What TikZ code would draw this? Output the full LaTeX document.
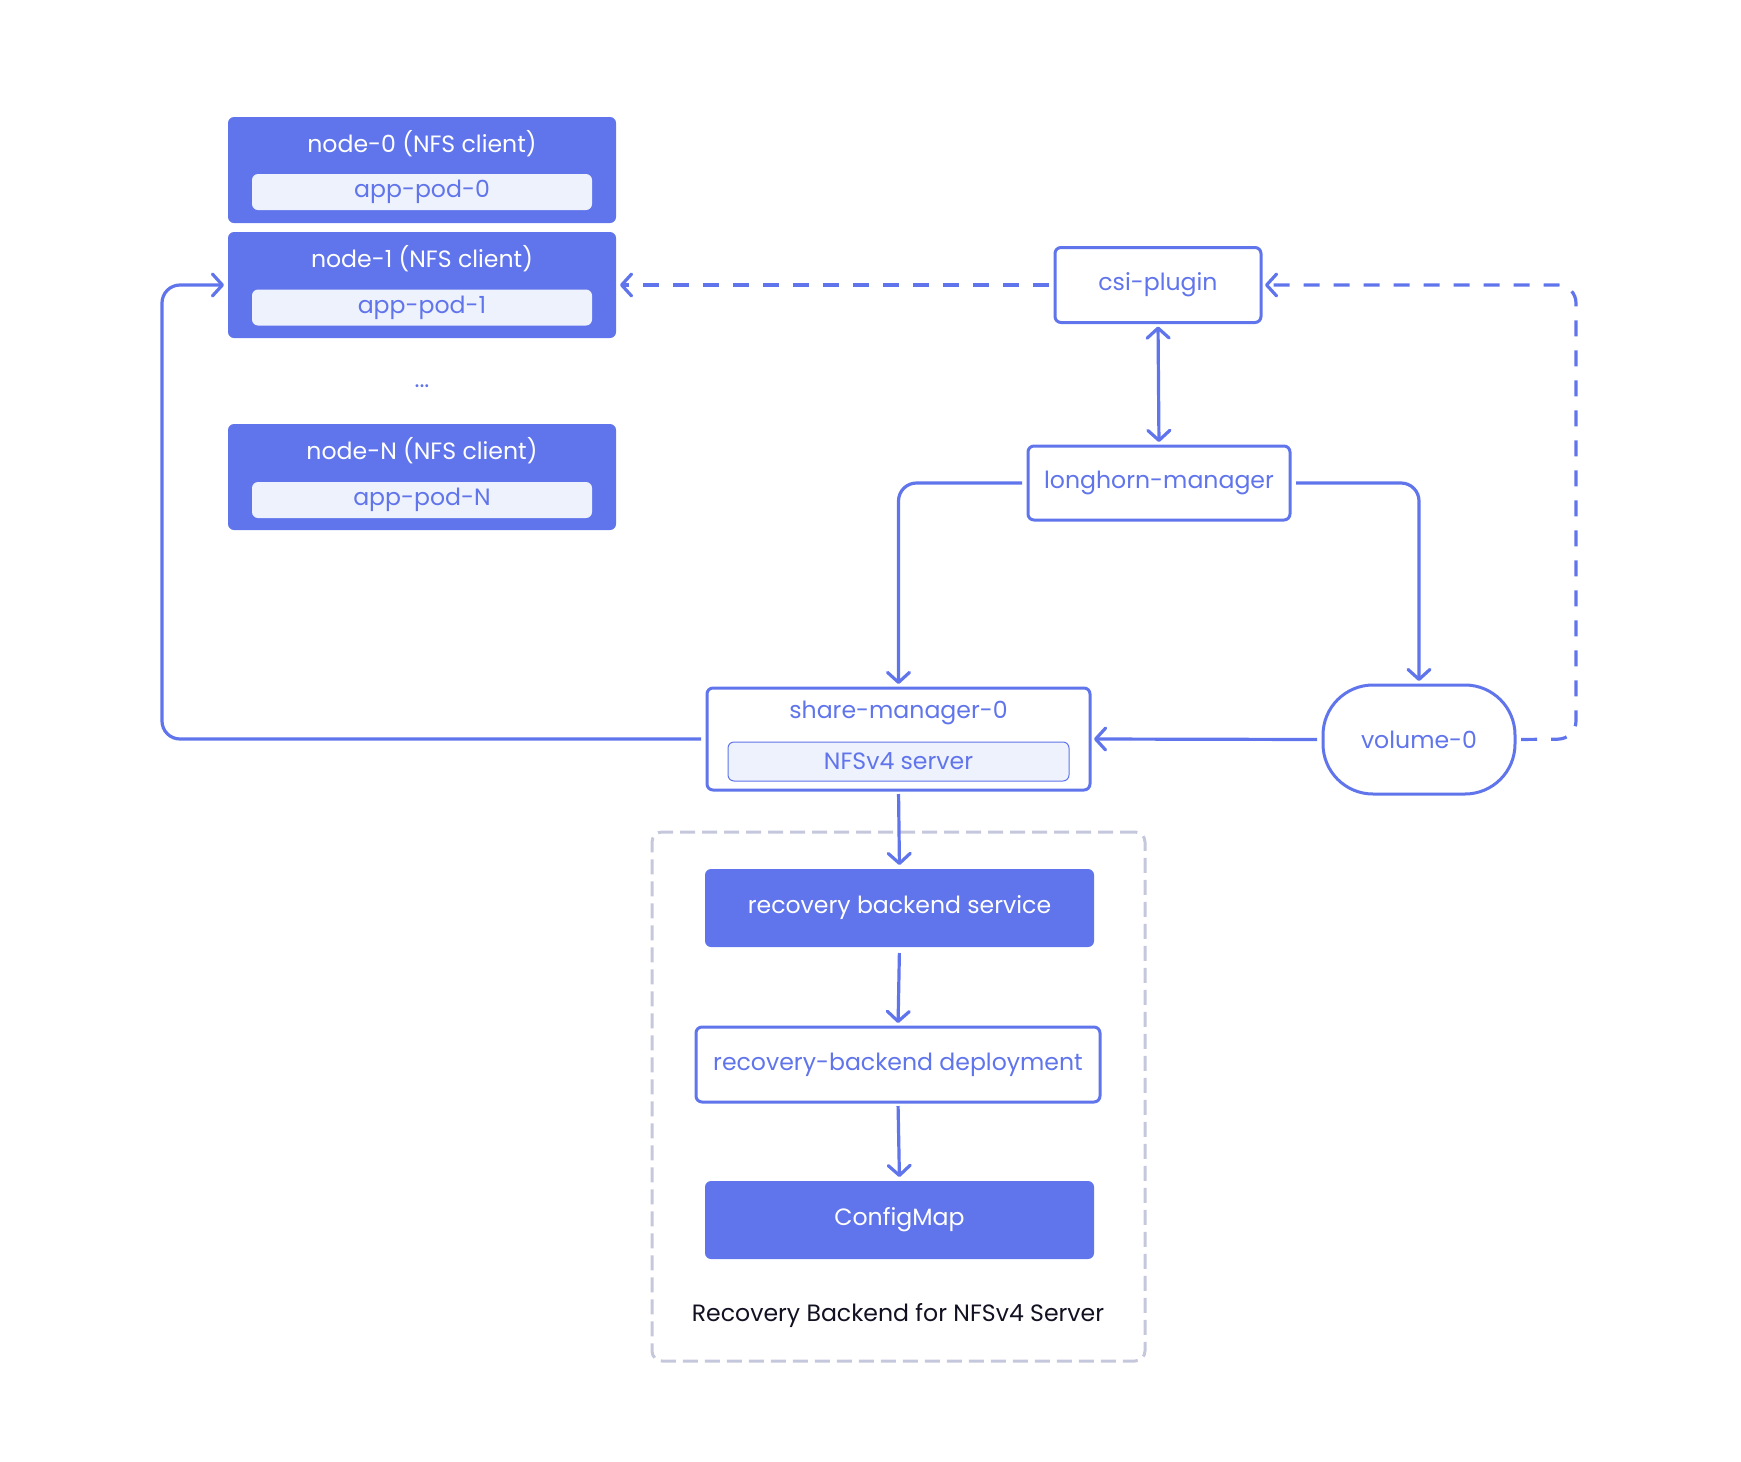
\documentclass[tikz,border=0pt]{standalone}
\usepackage{fontspec}
\setmainfont{Poppins}
\usetikzlibrary{arrows.meta}
\definecolor{lhblue}{HTML}{6074EB}
\definecolor{lhlight}{HTML}{EEF2FC}
\definecolor{lhgray}{HTML}{C5C8DD}
\definecolor{lhtext}{HTML}{111122}
\tikzset{
  x=0.5pt, y=-0.5pt,
  every node/.style={font=\fontsize{11.8}{13}\selectfont, inner sep=0pt, outer sep=0pt},
  filledbox/.style={fill=lhblue, draw=none, rounded corners=3pt, text=white},
  outlinebox/.style={fill=white, draw=lhblue, line width=1.5pt, rounded corners=3pt, text=lhblue},
  innerbox/.style={fill=lhlight, draw=none, rounded corners=3pt, text=lhblue, minimum width=170pt, minimum height=18pt},
  whitetext/.style={text=white},
  conn/.style={draw=lhblue, line width=1.6pt, rounded corners=9pt, -{Straight Barb[length=5pt,width=11pt,round]}, shorten >=2pt},
  dconn/.style={conn, dash pattern=on 8pt off 7pt},
  groupbox/.style={draw=lhgray, line width=1.5pt, dash pattern=on 7.5pt off 3.5pt, rounded corners=5pt},
}
\begin{document}
\begin{tikzpicture}
\useasboundingbox (0,0) rectangle (1741,1462);
% client nodes
\node[filledbox, minimum width=194pt, minimum height=53pt] (node0) at (422,170) {};
\node[whitetext] (node0t) at (422,144) {node-0 (NFS client)};
\node[innerbox] (pod0) at (422,192) {app-pod-0};
\node[filledbox, minimum width=194pt, minimum height=53pt] (node1) at (422,285) {};
\node[whitetext] (node1t) at (422,259) {node-1 (NFS client)};
\node[innerbox] (pod1) at (422,307.5) {app-pod-1};
\node[text=lhblue] (dots) at (422,386) {...};
\node[filledbox, minimum width=194pt, minimum height=53pt] (nodeN) at (422,477) {};
\node[whitetext] (nodeNt) at (422,451) {node-N (NFS client)};
\node[innerbox] (podN) at (422,500) {app-pod-N};
% control plane
\node[outlinebox, minimum width=103pt, minimum height=37.5pt] (csi) at (1158,285) {csi-plugin};
\node[outlinebox, minimum width=131pt, minimum height=37pt] (lh) at (1159,483) {longhorn-manager};
\node[outlinebox, minimum width=191.5pt, minimum height=51pt] (share) at (898.5,739) {};
\node[text=lhblue] (sharet) at (898.5,713) {share-manager-0};
\node[innerbox, draw=lhblue, line width=0.5pt, minimum width=170.5pt, minimum height=19.5pt] (nfs) at (898.5,761.5) {NFSv4 server};
\node[outlinebox, rounded corners=25pt, minimum width=96pt, minimum height=54.5pt] (vol) at (1419,739.5) {volume-0};
% recovery backend group
\node[groupbox, minimum width=246.5pt, minimum height=264.5pt] (grp) at (898.5,1096.5) {};
\node[filledbox, minimum width=194.5pt, minimum height=39pt] (svc) at (899.5,908) {recovery backend service};
\node[outlinebox, minimum width=202pt, minimum height=37.5pt] (dep) at (898,1064.5) {recovery-backend deployment};
\node[filledbox, minimum width=194.5pt, minimum height=39pt] (cm) at (899.5,1220) {ConfigMap};
\node[text=lhtext] (grpt) at (898,1316) {Recovery Backend for NFSv4 Server};
% connectors
\coordinate (leftbend) at (162,739);
\coordinate (rightbend) at (1576,739);
\draw[dconn, shorten <=3pt] (csi.west) -- (csi.west -| node1.east);
\draw[dconn, shorten <=3pt] (vol.east) -- (rightbend) |- (csi.east);
\draw[conn, {Straight Barb[length=5pt,width=11pt,round]}-{Straight Barb[length=5pt,width=11pt,round]}, shorten <=2pt] (csi.south) -- (lh.north);
\draw[conn, shorten <=3pt] (lh.west) -| (share.north);
\draw[conn, shorten <=3pt] (lh.east) -| (vol.north);
\draw[conn, shorten <=3pt] (vol.west) -- (share.east);
\draw[conn, shorten <=3pt] (share.west) -- (leftbend) |- (node1.west);
\draw[conn, shorten <=2pt] (share.south) -- (svc.north);
\draw[conn, shorten <=3pt] (svc.south) -- (dep.north);
\draw[conn, shorten <=2pt] (dep.south) -- (cm.north);
\end{tikzpicture}
\end{document}
